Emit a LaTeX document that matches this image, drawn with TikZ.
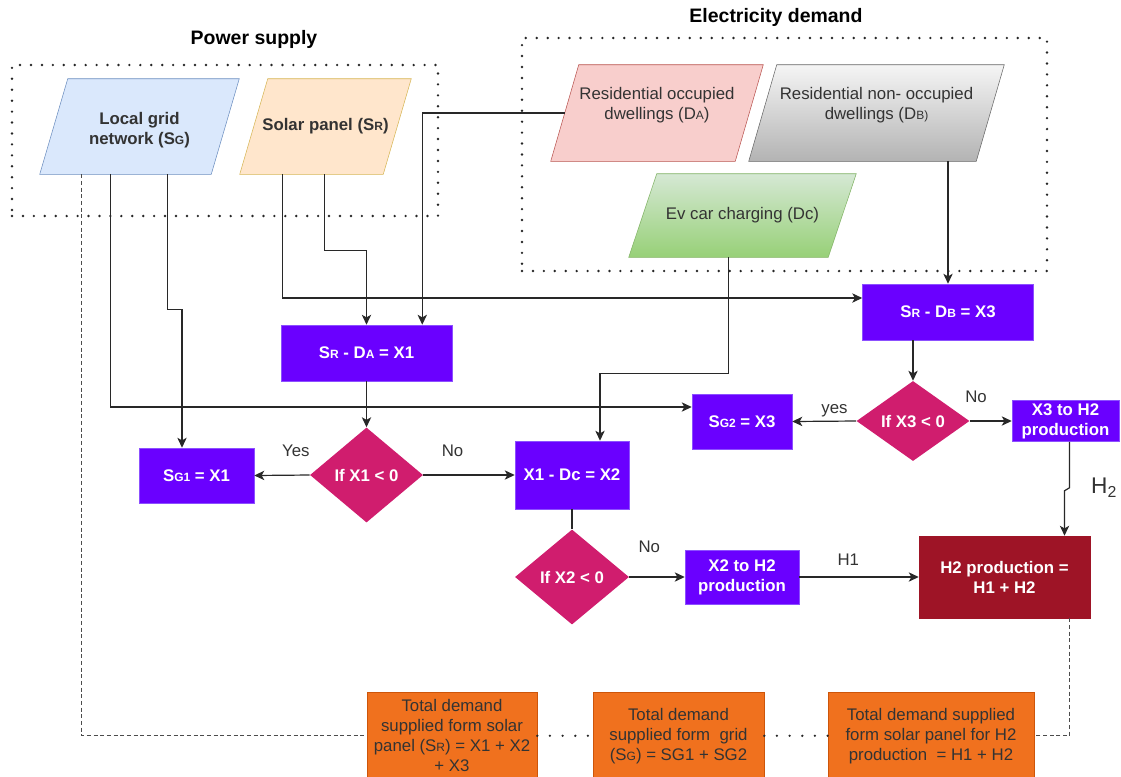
\documentclass[tikz,border=0pt]{standalone}
\usepackage{fontspec}
\setmainfont{Liberation Sans}
\usetikzlibrary{arrows.meta, calc, backgrounds, shapes.geometric}
\definecolor{mytext}{RGB}{51,51,51}
\definecolor{myline}{RGB}{40,40,40}
\definecolor{mygridfill}{RGB}{218,232,252}
\definecolor{mygridline}{RGB}{108,142,191}
\definecolor{mysolarfill}{RGB}{255,230,204}
\definecolor{mysolarline}{RGB}{214,182,86}
\definecolor{myresafill}{RGB}{248,206,204}
\definecolor{myresaline}{RGB}{184,84,80}
\definecolor{myresbtop}{RGB}{245,245,245}
\definecolor{myresbbottom}{RGB}{179,179,179}
\definecolor{myresbline}{RGB}{102,102,102}
\definecolor{myevtop}{RGB}{213,232,212}
\definecolor{myevbottom}{RGB}{151,208,119}
\definecolor{myevline}{RGB}{130,179,102}
\definecolor{mypurple}{RGB}{106,0,255}
\definecolor{mypurpleline}{RGB}{140,80,255}
\definecolor{mymagenta}{RGB}{208,29,110}
\definecolor{mydarkred}{RGB}{158,20,38}
\definecolor{myorange}{RGB}{240,113,30}
\definecolor{myorangeline}{RGB}{205,85,10}
\newcommand{\px}{0.75pt}
\newcommand{\sml}[1]{{\fontsize{9}{9}\selectfont #1}}
\newcommand{\txtfont}{\fontsize{12.6}{15}\selectfont}
\newcommand{\paraback}[2]{%
    \path[#2] ($(#1.north west)+(14,0)$) -- ($(#1.north east)+(14,0)$)
        -- ($(#1.south east)+(-14,0)$) -- ($(#1.south west)+(-14,0)$) -- cycle;}
\tikzset{
    common/.style={align=center, font=\txtfont, inner sep=2pt},
    para/.style={common, rectangle, minimum height=95*\px, text=mytext},
    proc/.style={common, rectangle, fill=mypurple, draw=mypurpleline, text=white, font=\txtfont\bfseries},
    decision/.style={common, diamond, fill=mymagenta, text=white, font=\txtfont\bfseries, inner sep=0pt},
    total/.style={common, rectangle, fill=myorange, draw=myorangeline, text=mytext, anchor=north, minimum height=87*\px},
    groupbox/.style={draw=black!85, line width=2pt, dash pattern=on 0pt off 8.2pt, line cap=round},
    heading/.style={font=\fontsize{14.6}{17}\selectfont\bfseries},
    conn/.style={draw=myline, line width=0.9pt},
    flow/.style={conn, -{Stealth[length=7.5pt, width=7pt, inset=2pt]}},
    dashline/.style={draw=black!70, line width=0.8pt, dash pattern=on 3pt off 2pt},
    dotline/.style={draw=black!85, line width=1.9pt, dash pattern=on 0pt off 9.5pt, line cap=round},
    lbl/.style={font=\txtfont, text=mytext, inner sep=0pt}
}
\begin{document}
\begin{tikzpicture}[x=\px, y=-\px]
\useasboundingbox (0,0) rectangle (1121,776);
\node[groupbox, minimum width=426*\px, minimum height=151*\px] (supply-box) at (225,140.5) {};
\node[groupbox, minimum width=525*\px, minimum height=233*\px] (demand-box) at (784.5,154.5) {};
\node[heading] (supply-title) at (254,39) {Power supply};
\node[heading] (demand-title) at (776,17) {Electricity demand};

\node[para, font=\txtfont\bfseries, minimum width=171*\px] (grid-src) at (139.5,126.5) {\mbox{}\\Local grid\\network (S\sml{G})};
\node[para, font=\txtfont\bfseries, minimum width=143*\px] (solar-src) at (325.5,126.5) {Solar panel (S\sml{R})};
\node[para, minimum width=184*\px, minimum height=96*\px] (dem-A) at (657,113) {Residential occupied\\dwellings (D\sml{A})\\\mbox{}};
\node[para, minimum width=227*\px, minimum height=96*\px] (dem-B) at (876.5,113) {Residential non- occupied\\dwellings (D\sml{B)}\\\mbox{}};
\node[para, minimum width=199*\px, minimum height=83*\px] (dem-C) at (742.5,215.5) {Ev car charging (Dc)};
\begin{pgfonlayer}{background}
    \paraback{grid-src}{fill=mygridfill, draw=mygridline}
    \paraback{solar-src}{fill=mysolarfill, draw=mysolarline}
    \paraback{dem-A}{fill=myresafill, draw=myresaline}
    \paraback{dem-B}{top color=myresbtop, bottom color=myresbbottom, draw=myresbline}
    \paraback{dem-C}{top color=myevtop, bottom color=myevbottom, draw=myevline}
\end{pgfonlayer}

\node[proc, minimum width=171*\px, minimum height=56*\px] (calc-X1) at (366.5,353) {S\sml{R} - D\sml{A} = X1};
\node[proc, minimum width=171*\px, minimum height=56*\px] (calc-X3) at (948,312) {S\sml{R} - D\sml{B} = X3};
\node[proc, minimum width=115*\px, minimum height=55*\px] (grid-G1) at (196.5,475.5) {S\sml{G1} = X1};
\node[proc, minimum width=100*\px, minimum height=55*\px] (grid-G2) at (742,421.5) {S\sml{G2} = X3};
\node[proc, minimum width=114*\px, minimum height=68*\px] (calc-X2) at (572,475) {X1 - Dc = X2};
\node[proc, inner sep=0.5pt, minimum width=107*\px, minimum height=41*\px] (h2-X3) at (1065.5,421) {X3 to H2\\production};
\node[proc, minimum width=114*\px, minimum height=54*\px] (h2-X2) at (742,577) {X2 to H2\\production};
\node[proc, fill=mydarkred, draw=mydarkred, minimum width=171*\px, minimum height=82*\px] (h2-total) at (1004.5,577) {H2 production =\\H1 + H2};

\node[decision, minimum width=113*\px, minimum height=95*\px] (test-X1) at (366.5,475) {If X1 < 0};
\node[decision, minimum width=114*\px, minimum height=95*\px] (test-X2) at (572,577) {If X2 < 0};
\node[decision, minimum width=113*\px, minimum height=80*\px] (test-X3) at (913,421) {If X3 < 0};

\node[total, minimum width=170*\px] (sum-R) at (452,692) {Total demand\\supplied form solar\\panel (S\sml{R}) = X1 + X2\\+ X3};
\node[total, minimum width=171*\px] (sum-G) at (678.5,692) {Total demand\\supplied form\ \ grid\\(S\sml{G}) = SG1 + SG2};
\node[total, minimum width=206*\px] (sum-H) at (931,692) {Total demand supplied\\form solar panel for H2\\production\ \ = H1 + H2};

\draw[flow] ($(grid-src.south west)+(114,0)$) -- ++(0,135) -| ($(grid-G1.north)+(-14.5,0)$);
\draw[flow] ($(grid-src.south west)+(57,0)$) |- ($(grid-G2.west)+(0,-14.5)$);
\draw[dashline] ($(grid-src.south west)+(28,0)$) |- (sum-R.west);
\draw[flow] ($(solar-src.south west)+(71,0)$) -- ++(0,76) -| (calc-X1.north);
\draw[flow] ($(solar-src.south west)+(29,0)$) |- ($(calc-X3.west)+(0,-14)$);
\draw[flow] (dem-A.west) -| ($(calc-X1.north east)+(-30,0)$);
\draw[flow] (dem-B.south -| calc-X3.north) -- (calc-X3.north);
\draw[flow] ($(dem-C.south)+(-14,0)$) -- ++(0,116) -| ($(calc-X2.north)+(28,0)$);

\draw[flow] (calc-X1) -- (test-X1);
\draw[flow] (test-X1.west) -- node[lbl, pos=0.25, yshift=18pt] (yes-X1) {Yes} (grid-G1.east);
\draw[flow] (test-X1.east) -- node[lbl, pos=0.32, yshift=18pt] (no-X1) {No} (calc-X2.west);
\draw[conn] (calc-X2.south) -- (test-X2.north);
\draw[flow] (test-X2.east) -- node[lbl, pos=0.36, yshift=22.5pt] (no-X2) {No} (h2-X2.west);
\draw[flow] (h2-X2.east) -- node[lbl, pos=0.41, yshift=12.75pt] (h1-lbl) {H1} (h2-total.west);
\draw[flow] (calc-X3.south -| test-X3.north) -- (test-X3.north);
\draw[flow] (test-X3.west) -- node[lbl, pos=0.34, yshift=7.5pt] (yes-X3) {yes} (grid-G2.east);
\draw[flow] (test-X3.east) -- node[lbl, pos=0.15, yshift=18pt] (no-X3) {No} (h2-X3.west);
\draw[flow] ($(h2-X3.south)+(4,0)$) -- ++(0,46) node[lbl, pos=1, xshift=26pt, font=\fontsize{17}{17}\selectfont] (h2-lbl) {H\textsubscript{2}} -- ++(-5,3) -- ($(h2-total.north)+(60,0)$);
\draw[dashline] ($(h2-total.south)+(65,0)$) |- (sum-H.east);
\draw[dotline] (sum-R.east) -- (sum-G.west);
\draw[dotline] (sum-G.east) -- (sum-H.west);
\end{tikzpicture}
\end{document}
